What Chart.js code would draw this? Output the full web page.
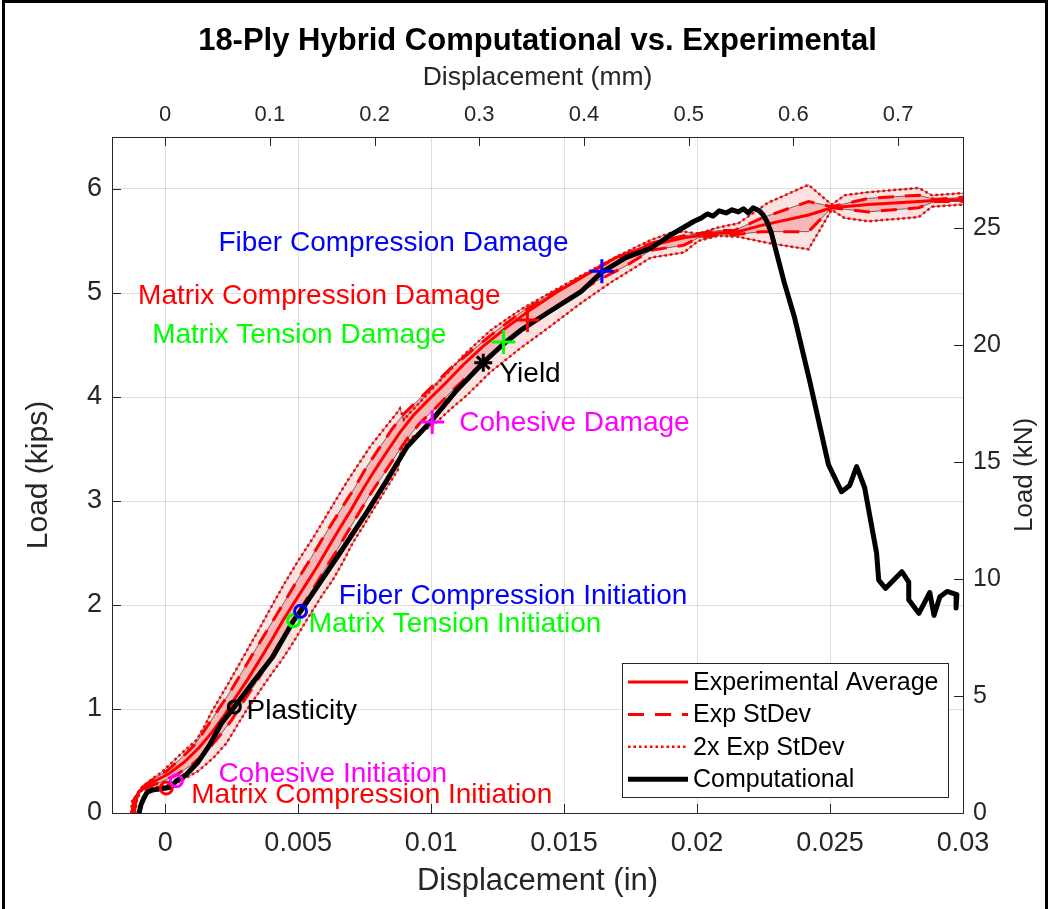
<!DOCTYPE html>
<html><head><meta charset="utf-8">
<script src="https://cdn.jsdelivr.net/npm/chart.js@4/dist/chart.umd.min.js"></script>
<style>html,body{margin:0;padding:0;background:#fff;}canvas{display:block;}</style>
</head><body>
<canvas id="c" width="1052" height="909"></canvas>
<script>
// ---------------- DATA ----------------
// Computational curve (displacement in, load kips)
const compX = [-0.00098,-0.00091,-0.00079,-0.00068,-0.00049,-0.00023,0.00004,0.00023,0.00042,0.00079,0.00121,0.00166,0.00211,0.00260,0.00328,0.00404,0.00483,0.00509,0.00570,0.00657,0.00758,0.00834,0.00909,0.01004,0.01098,0.01196,0.01272,0.01336,0.01438,0.01562,0.01642,0.01732,0.01826,0.01902,0.01989,0.02015,0.02038,0.02060,0.02083,0.02109,0.02132,0.02155,0.02174,0.02192,0.02211,0.02234,0.02249,0.02264,0.02279,0.02328,0.02366,0.02423,0.02494,0.02543,0.02574,0.02600,0.02630,0.02675,0.02683,0.02709,0.02770,0.02796,0.02796,0.02834,0.02875,0.02891,0.02913,0.02940,0.02977,0.02974];
const compY = [0,0.08,0.15,0.20,0.22,0.23,0.24,0.25,0.31,0.37,0.48,0.65,0.86,1.02,1.25,1.50,1.85,1.94,2.17,2.50,2.89,3.20,3.52,3.78,4.07,4.33,4.51,4.64,4.81,5.01,5.20,5.34,5.43,5.56,5.69,5.72,5.76,5.74,5.79,5.77,5.80,5.78,5.81,5.77,5.82,5.79,5.75,5.68,5.58,5.10,4.77,4.16,3.35,3.09,3.15,3.33,3.13,2.50,2.24,2.16,2.32,2.22,2.05,1.92,2.12,1.90,2.08,2.13,2.10,1.97];

// Experimental average
const avgX = [-0.00121,-0.00113,-0.00098,-0.00072,-0.00030,0.00015,0.00072,0.00128,0.00177,0.00223,0.00264,0.00309,0.00355,0.00400,0.00445,0.00487,0.00532,0.00574,0.00615,0.00657,0.00698,0.00743,0.00789,0.00838,0.00883,0.00932,0.00989,0.01053,0.01121,0.01192,0.01279,0.01374,0.01468,0.01581,0.01694,0.01826,0.01951,0.02004,0.02079,0.02140,0.02242,0.02419,0.02506,0.02645,0.02834,0.02894,0.03000];
const avgY = [0,0.13,0.21,0.26,0.32,0.38,0.49,0.63,0.78,0.94,1.11,1.28,1.47,1.66,1.86,2.03,2.21,2.38,2.56,2.74,2.91,3.11,3.30,3.49,3.66,3.82,3.97,4.13,4.31,4.48,4.66,4.84,5.00,5.17,5.34,5.46,5.53,5.55,5.58,5.58,5.65,5.75,5.82,5.85,5.88,5.89,5.90];

// +1 StDev / -1 StDev
const sd1UpX = [-0.00125,-0.00117,-0.00102,-0.00079,-0.00042,0.00004,0.00053,0.00109,0.00155,0.00196,0.00238,0.00283,0.00325,0.00370,0.00415,0.00460,0.00502,0.00543,0.00585,0.00626,0.00668,0.00713,0.00758,0.00808,0.00853,0.00898,0.00951,0.01015,0.01079,0.01155,0.01242,0.01336,0.01438,0.01555,0.01675,0.01826,0.01951,0.02004,0.02079,0.02140,0.02242,0.02419,0.02506,0.02645,0.02834,0.02894,0.03000];
const sd1UpY = [0,0.13,0.21,0.26,0.33,0.40,0.51,0.65,0.82,0.98,1.14,1.33,1.51,1.70,1.89,2.08,2.26,2.43,2.61,2.78,2.95,3.13,3.33,3.52,3.69,3.84,3.97,4.13,4.29,4.45,4.63,4.81,4.97,5.14,5.31,5.48,5.55,5.57,5.60,5.60,5.72,5.88,5.83,5.91,5.94,5.90,5.92];
const sd1LoX = [-0.00117,-0.00109,-0.00094,-0.00064,-0.00015,0.00038,0.00098,0.00155,0.00204,0.00249,0.00291,0.00336,0.00381,0.00426,0.00472,0.00513,0.00555,0.00600,0.00642,0.00683,0.00725,0.00770,0.00819,0.00868,0.00913,0.00958,0.01019,0.01083,0.01155,0.01230,0.01317,0.01411,0.01506,0.01619,0.01732,0.01826,0.01951,0.02004,0.02079,0.02140,0.02242,0.02419,0.02506,0.02645,0.02834,0.02894,0.03000];
const sd1LoY = [0,0.13,0.21,0.25,0.30,0.36,0.46,0.59,0.74,0.89,1.06,1.23,1.42,1.62,1.81,1.98,2.15,2.34,2.51,2.69,2.87,3.06,3.25,3.44,3.61,3.75,3.90,4.07,4.24,4.41,4.60,4.77,4.93,5.11,5.26,5.41,5.46,5.53,5.56,5.56,5.59,5.59,5.82,5.78,5.82,5.88,5.88];

// +2 StDev / -2 StDev
const sd2UpX = [-0.00128,-0.00125,-0.00109,-0.00087,-0.00053,-0.00015,0.00023,0.00064,0.00117,0.00147,0.00174,0.00234,0.00298,0.00347,0.00392,0.00449,0.00506,0.00562,0.00611,0.00687,0.00770,0.00819,0.00872,0.00883,0.00898,0.00921,0.00958,0.01008,0.01072,0.01121,0.01223,0.01336,0.01460,0.01581,0.01713,0.01826,0.01902,0.01951,0.02004,0.02079,0.02155,0.02268,0.02419,0.02506,0.02555,0.02645,0.02834,0.02883,0.03000];
const sd2UpY = [0,0.11,0.17,0.25,0.32,0.39,0.48,0.58,0.70,0.83,0.97,1.23,1.52,1.74,1.95,2.21,2.45,2.67,2.88,3.20,3.52,3.68,3.85,3.89,3.78,3.85,3.95,4.09,4.26,4.40,4.64,4.84,5.02,5.19,5.37,5.51,5.58,5.59,5.57,5.63,5.67,5.87,6.04,5.85,5.94,5.97,6.01,5.94,5.96];
const sd2LoX = [-0.00113,-0.00106,-0.00091,-0.00060,-0.00004,0.00053,0.00128,0.00185,0.00230,0.00268,0.00306,0.00347,0.00392,0.00438,0.00479,0.00517,0.00555,0.00592,0.00630,0.00668,0.00706,0.00743,0.00781,0.00834,0.00875,0.00883,0.00891,0.00932,0.01008,0.01072,0.01136,0.01223,0.01336,0.01438,0.01562,0.01675,0.01826,0.01902,0.01951,0.02004,0.02079,0.02155,0.02268,0.02419,0.02506,0.02555,0.02645,0.02834,0.02883,0.03000];
const sd2LoY = [0,0.13,0.21,0.24,0.26,0.30,0.41,0.54,0.67,0.83,0.99,1.14,1.31,1.47,1.63,1.79,1.95,2.10,2.24,2.41,2.60,2.75,2.91,3.13,3.30,3.44,3.52,3.62,3.73,3.88,4.02,4.24,4.47,4.66,4.90,5.10,5.34,5.37,5.39,5.50,5.55,5.54,5.48,5.42,5.80,5.72,5.69,5.73,5.83,5.85];

// Damage events on the computational curve
const initNames = ['Matrix Compression Initiation','Cohesive Initiation','Plasticity','Matrix Tension Initiation','Fiber Compression Initiation'];
const initX = [0.00004,0.00042,0.00260,0.00483,0.00509];
const initY = [0.24,0.31,1.02,1.85,1.94];
const damageNames = ['Cohesive Damage','Matrix Tension Damage','Matrix Compression Damage','Fiber Compression Damage'];
const damageX = [0.01004,0.01272,0.01362,0.01642];
const damageY = [3.76,4.53,4.74,5.21];
const yieldName = ['Yield'];
const yieldX = [0.01196];
const yieldY = [4.33];

// Annotation text anchors (data coords: left edge, vertical middle)
const noteText = ['Fiber Compression Damage','Matrix Compression Damage','Matrix Tension Damage','Yield','Cohesive Damage','Fiber Compression Initiation','Matrix Tension Initiation','Plasticity','Cohesive Initiation','Matrix Compression Initiation'];
const noteX = [0.00200,-0.00102,-0.00049,0.01257,0.01106,0.00653,0.00540,0.00306,0.00200,0.00098];
const noteY = [5.48,4.97,4.59,4.22,3.75,2.08,1.81,0.98,0.375,0.173];

// Axes ticks
const inTicks = [0,0.005,0.01,0.015,0.02,0.025,0.03];
const inTickLabels = ['0','0.005','0.01','0.015','0.02','0.025','0.03'];
const mmTicks = [0,0.1,0.2,0.3,0.4,0.5,0.6,0.7];
const mmTickLabels = ['0','0.1','0.2','0.3','0.4','0.5','0.6','0.7'];
const kipTicks = [0,1,2,3,4,5,6];
const kNTicks = [0,5,10,15,20,25];
const xRangeIn = [-0.002, 0.03];
const yRangeKips = [0, 6.5];
const IN_TO_MM = 25.4, KIP_TO_KN = 4.44822;

const legendLabels = ['Experimental Average','Exp StDev','2x Exp StDev','Computational'];

// ---------------- STYLES ----------------
const FONT = '"Liberation Sans", Arial, Helvetica, sans-serif';
const RED = '#ff0000', GREEN = '#00ff00', BLUE = '#0000ff', MAG = '#ff00ff', BLACK = '#000000';
const initColors = [RED, MAG, BLACK, GREEN, BLUE];
const damageColors = [MAG, GREEN, RED, BLUE];
const noteColors = [BLUE, RED, GREEN, BLACK, MAG, BLUE, GREEN, BLACK, MAG, RED];
const AXC = '#262626';
const DOT = [2.5, 3];
const DASH = [16, 11];

const pts = (xs, ys) => xs.slice(0, Math.min(xs.length, ys.length)).map((x, i) => ({x, y: ys[i]}));
const poly = (xa, ya, xb, yb) => pts(xa, ya).concat(pts(xb, yb).reverse());

const lineDS = (data, color, width, dash, order, extra) => Object.assign({
  type: 'line', data, borderColor: color, borderWidth: width, borderDash: dash || [],
  pointRadius: 0, pointHoverRadius: 0, fill: false, tension: 0, order, xAxisID: 'x', yAxisID: 'y'
}, extra || {});

const datasets = [
  lineDS(poly(sd2UpX, sd2UpY, sd2LoX, sd2LoY), 'rgba(0,0,0,0)', 0, null, 20, {fill: 'shape', backgroundColor: '#fde2e2'}),
  lineDS(poly(sd1UpX, sd1UpY, sd1LoX, sd1LoY), 'rgba(0,0,0,0)', 0, null, 19, {fill: 'shape', backgroundColor: '#f9b6b6'}),
  lineDS(pts(sd2UpX, sd2UpY), 'rgba(40,40,40,0.8)', 0.8, null, 18),
  lineDS(pts(sd2LoX, sd2LoY), 'rgba(40,40,40,0.8)', 0.8, null, 18),
  lineDS(pts(sd1UpX, sd1UpY), 'rgba(40,40,40,0.8)', 0.8, null, 18),
  lineDS(pts(sd1LoX, sd1LoY), 'rgba(40,40,40,0.8)', 0.8, null, 18),
  lineDS(pts(sd2UpX, sd2UpY), RED, 2.5, DOT, 17),
  lineDS(pts(sd2LoX, sd2LoY), RED, 2.5, DOT, 17),
  lineDS(pts(sd1UpX, sd1UpY), RED, 3, DASH, 16),
  lineDS(pts(sd1LoX, sd1LoY), RED, 3, DASH, 16),
  lineDS(pts(avgX, avgY), RED, 3, null, 15),
  lineDS(pts(compX, compY), BLACK, 5, null, 14, {borderJoinStyle: 'round', borderCapStyle: 'round'}),
  {type: 'scatter', data: pts(initX, initY), pointStyle: 'circle', pointRadius: 6, pointBorderWidth: 3,
   pointBorderColor: initColors, pointBackgroundColor: 'rgba(0,0,0,0)', showLine: false, order: 3, xAxisID: 'x', yAxisID: 'y'},
  {type: 'scatter', data: pts(initX, initY), pointStyle: 'circle', pointRadius: 2, pointBorderWidth: 0,
   pointBackgroundColor: BLACK, showLine: false, order: 2, xAxisID: 'x', yAxisID: 'y'},
  {type: 'scatter', data: pts(damageX, damageY), pointStyle: 'cross', pointRadius: 12, pointBorderWidth: 3,
   pointBorderColor: damageColors, showLine: false, order: 1, xAxisID: 'x', yAxisID: 'y'},
  {type: 'scatter', data: pts(yieldX, yieldY), pointStyle: 'star', pointRadius: 9, pointBorderWidth: 3,
   pointBorderColor: BLACK, showLine: false, order: 1, xAxisID: 'x', yAxisID: 'y'}
];

const deco = {
  id: 'deco',
  beforeDraw(chart) {
    const c = chart.ctx; c.save(); c.fillStyle = '#fff'; c.fillRect(0, 0, chart.width, chart.height); c.restore();
  },
  afterDatasetsDraw(chart) {
    const c = chart.ctx, a = chart.chartArea, s = chart.scales;
    c.save();
    c.strokeStyle = AXC; c.lineWidth = 1;
    const TL = 9;
    c.beginPath();
    s.x.ticks.forEach(t => { const p = Math.round(s.x.getPixelForValue(t.value)) + 0.5; c.moveTo(p, a.bottom); c.lineTo(p, a.bottom - TL); });
    s.x2.ticks.forEach(t => { const p = Math.round(s.x2.getPixelForValue(t.value)) + 0.5; c.moveTo(p, a.top); c.lineTo(p, a.top + TL); });
    s.y.ticks.forEach(t => { const p = Math.round(s.y.getPixelForValue(t.value)) + 0.5; c.moveTo(a.left, p); c.lineTo(a.left + TL, p); });
    s.y2.ticks.forEach(t => { const p = Math.round(s.y2.getPixelForValue(t.value)) + 0.5; c.moveTo(a.right, p); c.lineTo(a.right - TL, p); });
    c.stroke();
    c.strokeRect(Math.round(a.left) + 0.5, Math.round(a.top) + 0.5, Math.round(a.right - a.left), Math.round(a.bottom - a.top));
    // annotations
    c.font = '28px ' + FONT; c.textBaseline = 'middle'; c.textAlign = 'left';
    noteText.forEach((t, i) => {
      c.fillStyle = noteColors[i];
      c.fillText(t, s.x.getPixelForValue(noteX[i]), s.y.getPixelForValue(noteY[i]));
    });
    c.restore();
  },
  afterDraw(chart) {
    const c = chart.ctx, a = chart.chartArea;
    const cx = (a.left + a.right) / 2, cy = (a.top + a.bottom) / 2;
    c.save();
    c.textAlign = 'center'; c.textBaseline = 'middle';
    c.fillStyle = '#000'; c.font = 'bold 31px ' + FONT;
    c.fillText('18-Ply Hybrid Computational vs. Experimental', cx, a.top - 96);
    c.fillStyle = AXC; c.font = '26.5px ' + FONT;
    c.fillText('Displacement (mm)', cx, a.top - 59);
    c.font = '31px ' + FONT;
    c.fillText('Displacement (in)', cx, a.bottom + 68);
    c.save(); c.translate(a.left - 73, cy); c.rotate(-Math.PI / 2); c.font = '30px ' + FONT; c.fillText('Load (kips)', 0, 0); c.restore();
    c.save(); c.translate(a.right + 62, cy); c.rotate(-Math.PI / 2); c.font = '26px ' + FONT; c.fillText('Load (kN)', 0, 0); c.restore();
    // legend
    const L = {x: a.right - 341, y: a.bottom - 150, w: 326, h: 134};
    c.fillStyle = '#fff'; c.fillRect(L.x, L.y, L.w, L.h);
    c.strokeStyle = AXC; c.lineWidth = 1; c.strokeRect(L.x + 0.5, L.y + 0.5, L.w, L.h);
    const styles = [[RED, 3, []], [RED, 3, DASH], [RED, 2.5, DOT], [BLACK, 5, []]];
    c.font = '25px ' + FONT; c.textAlign = 'left'; c.textBaseline = 'middle';
    legendLabels.forEach((lab, i) => {
      const ry = L.y + 19 + i * 32.4;
      c.beginPath(); c.strokeStyle = styles[i][0]; c.lineWidth = styles[i][1]; c.setLineDash(styles[i][2]);
      c.moveTo(L.x + 6, ry); c.lineTo(L.x + 66, ry); c.stroke(); c.setLineDash([]);
      c.fillStyle = '#000'; c.fillText(lab, L.x + 71, ry + 1);
    });
    // figure border
    c.strokeStyle = '#000'; c.lineWidth = 3;
    c.strokeRect(3.5, 1.5, chart.width - 9, chart.height + 10);
    c.restore();
  }
};

const tickFont = size => ({family: FONT, size});
const fixTicks = vals => s => { s.ticks = vals.map(v => ({value: v})); };

new Chart(document.getElementById('c'), {
  type: 'line',
  data: {datasets},
  options: {
    responsive: false, animation: false, events: [],
    layout: {padding: 0, autoPadding: false},
    plugins: {legend: {display: false}, title: {display: false}, tooltip: {enabled: false}},
    scales: {
      x: {type: 'linear', position: 'bottom', min: xRangeIn[0], max: xRangeIn[1],
          afterBuildTicks: fixTicks(inTicks),
          ticks: {callback: (v, i) => inTickLabels[i], font: tickFont(27), color: AXC, padding: 14, maxRotation: 0, autoSkip: false},
          grid: {color: 'rgba(38,38,38,0.15)', drawTicks: false}, border: {display: false},
          afterFit: s => { s.height = 96; }},
      x2: {type: 'linear', position: 'top', min: xRangeIn[0] * IN_TO_MM, max: xRangeIn[1] * IN_TO_MM,
          afterBuildTicks: fixTicks(mmTicks),
          ticks: {callback: (v, i) => mmTickLabels[i], font: tickFont(22), color: AXC, padding: 9, maxRotation: 0, autoSkip: false},
          grid: {display: false, drawTicks: false}, border: {display: false},
          afterFit: s => { s.height = 137; }},
      y: {type: 'linear', position: 'left', min: yRangeKips[0], max: yRangeKips[1],
          afterBuildTicks: fixTicks(kipTicks),
          ticks: {callback: v => String(v), font: tickFont(27), color: AXC, padding: 10},
          grid: {color: 'rgba(38,38,38,0.15)', drawTicks: false}, border: {display: false},
          afterFit: s => { s.width = 112; }},
      y2: {type: 'linear', position: 'right', min: yRangeKips[0] * KIP_TO_KN, max: yRangeKips[1] * KIP_TO_KN,
          afterBuildTicks: fixTicks(kNTicks),
          ticks: {callback: v => String(v), font: tickFont(25), color: AXC, padding: 10},
          grid: {display: false, drawTicks: false}, border: {display: false},
          afterFit: s => { s.width = 89; }}
    }
  },
  plugins: [deco]
});
</script>
</body></html>
